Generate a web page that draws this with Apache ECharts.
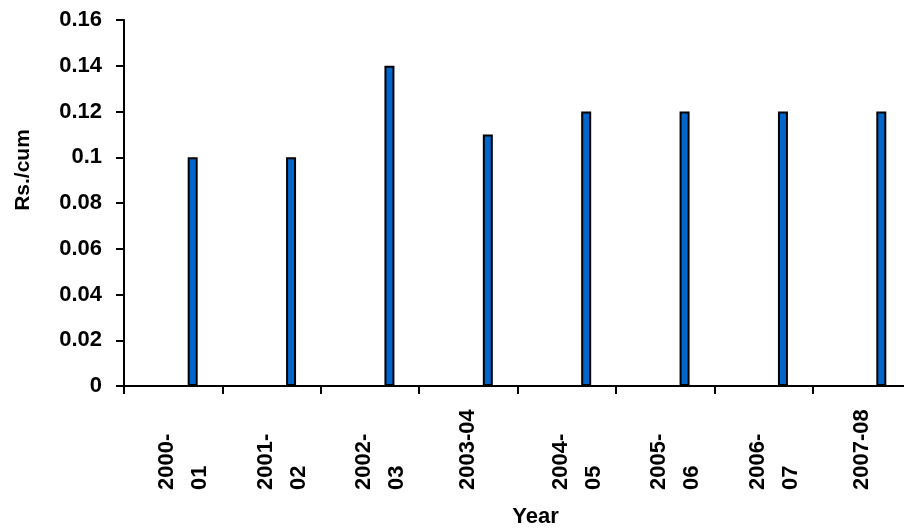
<!DOCTYPE html>
<html>
<head>
<meta charset="utf-8">
<script src="https://cdn.jsdelivr.net/npm/echarts@6/dist/echarts.min.js"></script>
<style>
html,body{margin:0;padding:0;background:#fff;}
#chart{width:904px;height:529px;}
</style>
</head>
<body>
<div id="chart"></div>
<script>
var categories = ['2000-\n01','2001-\n02','2002-\n03','2003-04','2004-\n05','2005-\n06','2006-\n07','2007-08'];
var values = [0.10, 0.10, 0.14, 0.11, 0.12, 0.12, 0.12, 0.12];
var yTicks = { min: 0, max: 0.16, interval: 0.02 };
var xTitle = 'Year';
var yTitle = 'Rs./cum';

var FONT = "'Liberation Sans', Arial, sans-serif";
var chart = echarts.init(document.getElementById('chart'), null, {renderer: 'canvas'});

chart.setOption({
  animation: false,
  backgroundColor: '#ffffff',
  grid: { left: 124, right: -7, top: 20, bottom: 143, containLabel: false, outerBoundsMode: 'none' },
  xAxis: {
    type: 'category',
    data: categories,
    boundaryGap: true,
    name: xTitle,
    nameLocation: 'middle',
    nameGap: 120,
    nameMoveOverlap: false,
    nameTextStyle: { fontFamily: FONT, fontWeight: 'bold', fontSize: 22, color: '#000', padding: [0, 0, 0, 36] },
    axisLine: { show: true, lineStyle: { color: '#000', width: 2 } },
    axisTick: { show: true, alignWithLabel: false, length: 8, lineStyle: { color: '#000', width: 2 } },
    axisLabel: {
      interval: 0, rotate: 90, align: 'left', margin: 104, hideOverlap: false,
      fontFamily: FONT, fontWeight: 'bold', fontSize: 22, color: '#000', lineHeight: 33,
      formatter: function (v) {
        var parts = v.split('\n');
        if (parts.length < 2) return '{t|' + v + '}';
        return '{e| }\n' + parts.map(function (p) { return '{t|' + p + '}'; }).join('\n');
      },
      rich: {
        e: { fontSize: 4, lineHeight: 21 },
        t: { fontFamily: FONT, fontWeight: 'bold', fontSize: 22, color: '#000', lineHeight: 33 }
      }
    },
    splitLine: { show: false }
  },
  yAxis: {
    type: 'value',
    min: yTicks.min, max: yTicks.max, interval: yTicks.interval,
    name: yTitle,
    nameLocation: 'middle',
    nameGap: 90,
    nameRotate: 90,
    nameMoveOverlap: false,
    nameTextStyle: { fontFamily: FONT, fontWeight: 'bold', fontSize: 21, color: '#000', padding: [0, 0, 0, 66] },
    axisLine: { show: true, lineStyle: { color: '#000', width: 2 } },
    axisTick: { show: true, inside: false, length: 8, lineStyle: { color: '#000', width: 2 } },
    axisLabel: { margin: 22, fontFamily: FONT, fontWeight: 'bold', fontSize: 22, color: '#000' },
    splitLine: { show: false }
  },
  series: [
    { type: 'bar', data: categories.map(function () { return null; }), barWidth: 10, barGap: '290%', silent: true },
    {
      type: 'bar', data: values, barWidth: 10, barGap: '290%',
      itemStyle: { color: '#0066CC', borderColor: '#000', borderWidth: 2 }
    }
  ]
});
</script>
</body>
</html>
